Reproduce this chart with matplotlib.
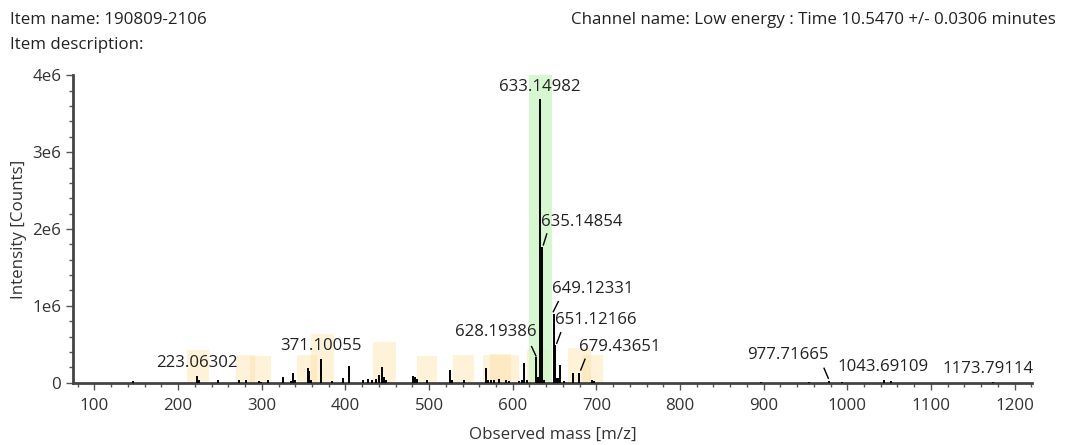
import matplotlib
matplotlib.use("Agg")
import matplotlib.pyplot as plt
from matplotlib.ticker import MultipleLocator, FuncFormatter

plt.rcParams['font.family'] = ['Open Sans', 'DejaVu Sans']

# ---------------- data ----------------
peak_mz = [146, 223.06302, 225.0, 248, 272.8, 280.8, 296.7, 299.0, 307.8, 325.7,
           334.5, 337.7, 340.0, 354.9, 356.5, 358.5, 371.10055, 383.6, 396.8, 404.7,
           421.4, 427.4, 431.2, 436.6, 440.2, 443.7, 445.7, 448.0, 480.4, 483.6,
           486.0, 497.2, 525.0, 527.5, 541.8, 568.1, 571.0, 574.0, 578.0, 584.0,
           591.6, 596.0, 608.0, 610.5, 613.5, 617.0, 628.19386, 630.5, 633.14982, 635.14854,
           637.5, 649.12331, 651.12166, 653.5, 655.0, 656.6, 661.0, 672.5, 679.43651, 694.4,
           697.0, 896.9, 954.6, 977.71665, 993.3, 1043.69109, 1052.0, 1173.79114]
peak_int = [0.02e6, 0.09e6, 0.03e6, 0.04e6, 0.035e6, 0.035e6, 0.02e6, 0.015e6, 0.035e6, 0.08e6,
            0.02e6, 0.125e6, 0.03e6, 0.19e6, 0.15e6, 0.03e6, 0.31e6, 0.02e6, 0.06e6, 0.22e6,
            0.035e6, 0.05e6, 0.035e6, 0.05e6, 0.10e6, 0.20e6, 0.07e6, 0.035e6, 0.09e6, 0.08e6,
            0.045e6, 0.035e6, 0.165e6, 0.035e6, 0.035e6, 0.195e6, 0.04e6, 0.035e6, 0.035e6, 0.045e6,
            0.035e6, 0.02e6, 0.02e6, 0.03e6, 0.25e6, 0.03e6, 0.33e6, 0.08e6, 3.69e6, 1.76e6,
            0.035e6, 0.90e6, 0.49e6, 0.06e6, 0.06e6, 0.23e6, 0.02e6, 0.13e6, 0.13e6, 0.035e6,
            0.02e6, 0.012e6, 0.015e6, 0.02e6, 0.015e6, 0.03e6, 0.02e6, 0.012e6]

labeled_mz = [223.06302, 371.10055, 628.19386, 633.14982, 635.14854, 649.12331,
              651.12166, 679.43651, 977.71665, 1043.69109, 1173.79114]

# highlight windows (m/z start, m/z end, height)
band_start = [211, 269, 286, 342, 359, 433, 485, 529, 564, 573, 590, 617, 666, 683]
band_end = [237, 292, 311, 366, 386, 461, 509, 554, 589, 598, 608, 643, 694, 708]
band_height = [0.42e6, 0.36e6, 0.35e6, 0.36e6, 0.63e6, 0.53e6, 0.35e6, 0.36e6, 0.36e6,
               0.37e6, 0.36e6, 0.42e6, 0.45e6, 0.36e6]
main_window = (620, 647)

# ---------------- layout ----------------
# label placement: mz -> (text x, text y, leader start (x,y) or None)
label_layout = {
    223.06302: (222.6, 0.256e6, None),
    371.10055: (370.8, 0.478e6, None),
    628.19386: (580.0, 0.66e6, ((627.8, 0.348e6), (622.6, 0.469e6))),
    633.14982: (632.6, 3.85e6, None),
    635.14854: (682.9, 2.09e6, ((636.6, 1.793e6), (640.7, 1.936e6))),
    649.12331: (696.0, 1.22e6, ((648.5, 0.924e6), (654.5, 1.055e6))),
    651.12166: (699.6, 0.816e6, ((652.6, 0.513e6), (657.4, 0.651e6))),
    679.43651: (728.3, 0.465e6, ((681.3, 0.165e6), (686.4, 0.305e6))),
    977.71665: (929.2, 0.361e6, ((977.3, 0.057e6), (972.2, 0.1875e6))),
    1043.69109: (1042.7, 0.204e6, None),
    1173.79114: (1168.2, 0.178e6, None),
}

FS = 12.2
W, H = 1066, 445
fig = plt.figure(figsize=(W / 100, H / 100), dpi=100)
ax = fig.add_axes([73 / W, 1 - 382.7 / H, (1032 - 73) / W, (382.7 - 75.3) / H])

# bands
for s, e, h in zip(band_start, band_end, band_height):
    ax.fill_between([s, e], 0, h, color='#fde0a6', alpha=0.42, lw=0, zorder=1)
ax.fill_between(list(main_window), 0, 4e6, color='#c9f5c1', alpha=0.75, lw=0, zorder=1)

# sticks
ax.vlines(peak_mz, 0, peak_int, color='black', lw=1.4, zorder=3)

# labels
for mz in labeled_mz:
    tx, ty, lead = label_layout[mz]
    ax.text(tx, ty, f"{mz:.5f}", ha='center', va='center', fontsize=12.1,
            color='#222222', zorder=4)
    if lead is not None:
        (x0, y0), (x1, y1) = lead
        ax.plot([x0, x1], [y0, y1], color='black', lw=1.0, zorder=4)

ax.set_xlim(74.3, 1220.8)
ax.set_ylim(0, 4e6)
ax.xaxis.set_major_locator(MultipleLocator(100))
ax.xaxis.set_minor_locator(MultipleLocator(20))
ax.yaxis.set_major_locator(MultipleLocator(1e6))
ax.yaxis.set_minor_locator(MultipleLocator(0.2e6))
ax.yaxis.set_major_formatter(FuncFormatter(lambda v, p: '0' if v == 0 else f"{int(round(v / 1e6))}e6"))

for side in ['top', 'right']:
    ax.spines[side].set_visible(False)
for side in ['left', 'bottom']:
    ax.spines[side].set_color('#444444')
    ax.spines[side].set_linewidth(2.0)
ax.tick_params(axis='x', which='major', pad=6)
ax.tick_params(which='major', length=5, width=1, color='#555555', labelsize=FS,
               labelcolor='#333333')
ax.tick_params(which='minor', length=3, width=1, color='#555555')

ax.set_xlabel('Observed mass [m/z]', fontsize=FS, color='#333333', labelpad=9)
ax.set_ylabel('Intensity [Counts]', fontsize=FS, color='#333333', labelpad=4)

fig.text(10 / W, 1 - 20 / H, 'Item name: 190809-2106', fontsize=FS, color='#222222', va='center')
fig.text(10 / W, 1 - 45 / H, 'Item description:', fontsize=FS, color='#222222', va='center')
fig.text(1056 / W, 1 - 20 / H, 'Channel name: Low energy : Time 10.5470 +/- 0.0306 minutes',
         fontsize=FS, color='#222222', va='center', ha='right')

fig.savefig('out.png', dpi=100)
